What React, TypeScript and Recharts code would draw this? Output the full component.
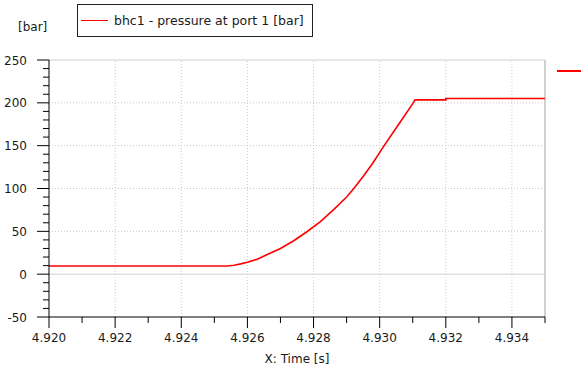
import {
  LineChart,
  Line,
  XAxis,
  YAxis,
  ReferenceLine,
} from "recharts";

const FONT = "'DejaVu Sans', Verdana, sans-serif";

// time [s] and pressure [bar]
const times = [
  4.92, 4.9254, 4.9256, 4.9258, 4.926, 4.9263, 4.9266, 4.927, 4.9274, 4.9278,
  4.9282, 4.9286, 4.929, 4.9292, 4.9295, 4.9298, 4.9301, 4.9304, 4.9307, 4.931,
  4.93107, 4.932, 4.932, 4.935,
];
const pressure = [
  9.5, 9.5, 10.5, 12, 14, 17.5, 23, 30, 39, 49.5, 61, 75, 90, 99, 114, 130, 148,
  165, 182, 199, 203.5, 203.5, 205, 205,
];

const xMajor = [4.92, 4.922, 4.924, 4.926, 4.928, 4.93, 4.932, 4.934];
const xMinor = [4.921, 4.923, 4.925, 4.927, 4.929, 4.931, 4.933, 4.935];
const yMajor = [-50, 0, 50, 100, 150, 200, 250];
const yMinor = [
  -40, -30, -20, -10, 10, 20, 30, 40, 60, 70, 80, 90, 110, 120, 130, 140, 160,
  170, 180, 190, 210, 220, 230, 240,
];
const xGrid = [4.922, 4.924, 4.926, 4.928, 4.93, 4.932, 4.934];
const yGrid = [50, 100, 150, 200];

const data = times.map((t, i) => ({ t, p: pressure[i] }));

const isMajor = (list: number[], v: number) =>
  list.some((m) => Math.abs(m - v) < 1e-7);

const XTick = (props: any) => {
  const { x, y, payload } = props;
  const major = isMajor(xMajor, payload.value);
  return (
    <g>
      <line x1={x} x2={x} y1={y} y2={y + (major ? 11 : 6)} stroke="#000" />
      {major && (
        <text x={x} y={y + 25} textAnchor="middle" fontSize={12} fontFamily={FONT} fill="#1a1a1a">
          {payload.value.toFixed(3)}
        </text>
      )}
    </g>
  );
};

const YTick = (props: any) => {
  const { x, y, payload } = props;
  const major = isMajor(yMajor, payload.value);
  return (
    <g>
      <line x1={x - (major ? 12 : 6)} x2={x} y1={y} y2={y} stroke="#000" />
      {major && (
        <text x={x - 22} y={y + 4.5} textAnchor="end" fontSize={12} fontFamily={FONT} fill="#1a1a1a">
          {payload.value}
        </text>
      )}
    </g>
  );
};

const LegendBox = () => (
  <div
    style={{
      position: "absolute",
      left: 77,
      top: 4,
      width: 234,
      height: 31,
      border: "1px solid #222",
      background: "#fff",
      display: "flex",
      alignItems: "center",
      fontFamily: FONT,
      fontSize: 12.5,
      color: "#1a1a1a",
      zIndex: 2,
    }}
  >
    <div style={{ width: 27, height: 1.5, background: "#ff0000", marginLeft: 3, marginRight: 6 }} />
    <span>bhc1 - pressure at port 1 [bar]</span>
  </div>
);

const App = () => {
  return (
    <div style={{ position: "absolute", left: 0, top: 0, width: 581, height: 367, background: "#fff" }}>
      <div
        style={{
          position: "absolute",
          left: 18,
          top: 20,
          fontFamily: FONT,
          fontSize: 12,
          color: "#1a1a1a",
        }}
      >
        [bar]
      </div>
      <LegendBox />
      <div style={{ position: "absolute", left: 557, top: 70, width: 24, height: 1.5, background: "#ff0000" }} />
      <LineChart width={581} height={367} data={data} margin={{ top: 60, right: 36, bottom: 0, left: 0 }}>
        {xGrid.map((v) => (
          <ReferenceLine key={"x" + v} x={v} stroke="#c8c8c8" strokeDasharray="1 2" />
        ))}
        {yGrid.map((v) => (
          <ReferenceLine key={"y" + v} y={v} stroke="#c8c8c8" strokeDasharray="1 2" />
        ))}
        <ReferenceLine y={0} stroke="#d0d0d0" />
        <ReferenceLine y={250} stroke="#d0d0d0" />
        <ReferenceLine x={4.935} stroke="#d0d0d0" strokeWidth={2} />
        <XAxis
          type="number"
          dataKey="t"
          domain={[4.92, 4.935]}
          ticks={[...xMajor, ...xMinor]}
          interval={0}
          allowDataOverflow
          height={50}
          tickSize={0}
          tickMargin={0}
          tickLine={false}
          axisLine={{ stroke: "#000" }}
          tick={<XTick />}
          label={{
            value: "X: Time [s]",
            position: "insideBottom",
            offset: 4,
            fontSize: 12,
            fontFamily: FONT,
            fill: "#1a1a1a",
          }}
        />
        <YAxis
          type="number"
          domain={[-50, 250]}
          ticks={[...yMajor, ...yMinor]}
          interval={0}
          allowDataOverflow
          width={49}
          tickSize={0}
          tickMargin={0}
          tickLine={false}
          axisLine={{ stroke: "#000" }}
          tick={<YTick />}
        />
        <Line
          type="linear"
          dataKey="p"
          stroke="#ff0000"
          strokeWidth={1.6}
          dot={false}
          isAnimationActive={false}
        />
      </LineChart>
    </div>
  );
};

export default App;
